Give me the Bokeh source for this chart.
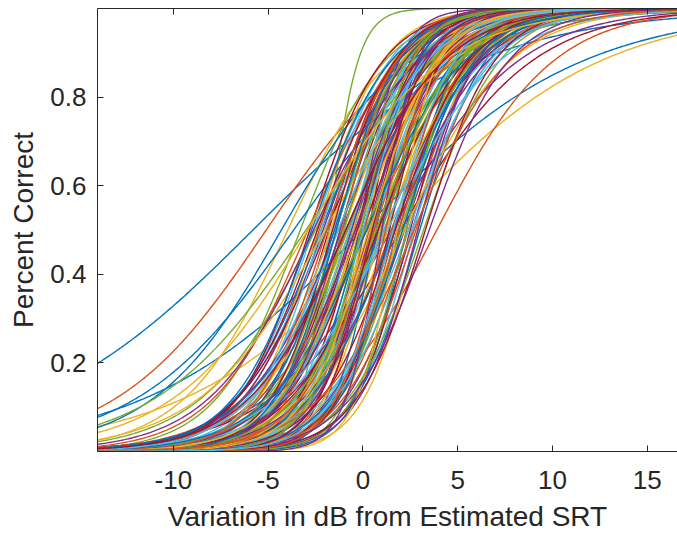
import numpy as np
from bokeh.plotting import figure
from bokeh.models import ColumnDataSource, FixedTicker, LinearAxis, Range1d
from bokeh.embed import file_html
from bokeh.resources import INLINE

# Psychometric-function parameters (midpoint in dB, slope)
midpoints = [
    -0.5, 0.8, -1.2, 1.6, -0.2, 0.4, -1.8,
    1.2, -2.3, 0.1, -0.9, 2.1, -1.5, 0.6,
    -5.8, -5.1, 1.5, -0.3, 0.9, -2.6, 1.9,
    -1.1, 2.4, -0.6, 0.3, -1.8, 1.0, -0.4,
    0.0, 3.9, -3.96, 1.5, -3.3, -2.0, 2.0,
    -3.65, 0.5, 1.3, -2.1, 0.2, 2.7, -1.0,
    -4.3, -1.4, 0.7, 2.2, -0.7, -0.1, 1.1,
    1.8, -0.8, -2.4, 0.4, 1.4, -1.6, -2.8,
    0.9, 1.7, 2.9, -1.3, -2.5, 0.0, 0.3,
    -2.2, 0.2, -0.5, 2.6, 1.0, 1.9, -1.9,
    2.3, -2.9, 1.2, -0.2, -3.0, 0.6, 2.5,
    -0.9, 1.5, -1.7, 0.8, 2.0, -0.6, 0.0,
    3.0, 0.1, -1.0, -2.6, 0.5, 2.4, -0.3,
    -1.5, 2.8, 0.9, 1.7, -0.8, -2.2, 1.4,
    0.7, -0.4, 2.2, -1.2, 3.2, 1.1, -2.4,
    -0.1, 1.9, -2.0, 0.4, -1.4, 2.6, 0.8,
    1.6, -1.1, 0.3, 2.9, 0.1, -0.7, -1.6,
    -2.7, 0.6, 1.8, -0.4, 2.3, 1.3, 3.3,
    0.2, -1.9, -0.2, 1.0, -1.0, 0.0, 1.7,
    2.1, 1.2, -2.9, -0.6, 0.7, -1.3, 0.5,
    -1.4, 2.7, 0.4, 3.5, -0.1, 1.6, -0.9,
]
slopes = [
    0.55, 0.48, 0.62, 0.45, 0.70, 0.52, 0.58,
    0.42, 0.50, 0.66, 0.40, 0.58, 0.47, 0.75,
    0.17, 0.251, 0.182, 0.53, 0.44, 0.49, 0.60,
    0.46, 0.55, 0.38, 0.68, 1.30, 0.57, 0.50,
    0.173, 0.326, 0.365, 0.30, 0.45, 0.43, 0.29,
    0.24, 0.60, 0.52, 0.47, 0.41, 0.64, 0.56,
    0.295, 0.63, 0.45, 0.50, 0.55, 0.80, 0.39,
    0.66, 0.36, 0.58, 0.49, 0.85, 0.44, 0.52,
    0.51, 0.62, 0.70, 0.40, 0.33, 0.46, 0.90,
    0.44, 0.35, 0.72, 0.57, 0.48, 0.53, 0.42,
    0.75, 0.40, 0.43, 0.95, 0.25, 0.58, 0.66,
    0.37, 0.47, 0.52, 0.60, 0.54, 0.67, 0.48,
    0.58, 0.82, 0.50, 0.36, 0.62, 0.45, 0.64,
    0.54, 0.52, 0.68, 0.41, 0.46, 0.56, 0.73,
    0.88, 0.44, 0.36, 0.59, 0.50, 0.38, 0.47,
    0.63, 0.56, 0.30, 0.71, 0.57, 0.49, 0.43,
    0.45, 0.69, 0.55, 0.64, 0.40, 0.50, 0.61,
    0.48, 0.51, 0.93, 0.45, 0.70, 0.34, 0.55,
    0.39, 0.54, 0.47, 1.05, 0.60, 0.65, 0.51,
    0.53, 0.76, 0.28, 0.55, 0.46, 0.43, 0.70,
    0.61, 0.40, 0.58, 0.48, 0.74, 0.62, 0.39,
]
x_ticks = [-10, -5, 0, 5, 10, 15]
y_ticks = [0.2, 0.4, 0.6, 0.8]
x_label = "Variation in dB from Estimated SRT"
y_label = "Percent Correct"
palette = ["#0072BD", "#D95319", "#EDB120", "#7E2F8E", "#77AC30", "#4DBEEE", "#A2142F"]

x = np.linspace(-14, 16.6, 300)
xs, ys, cols = [], [], []
for i, (m, s) in enumerate(zip(midpoints, slopes)):
    xs.append(x)
    ys.append(1.0 / (1.0 + np.exp(-s * (x - m))))
    cols.append(palette[i % len(palette)])
src = ColumnDataSource(dict(xs=xs, ys=ys, color=cols))

FONT = "Liberation Sans"
TXT = "#262626"

p = figure(width=677, height=538, x_range=Range1d(-14, 16.6), y_range=Range1d(0, 1),
           output_backend="svg", toolbar_location=None,
           min_border_left=97, min_border_right=0, min_border_top=8, min_border_bottom=87,
           x_axis_label=x_label, y_axis_label=y_label)
p.multi_line(xs="xs", ys="ys", line_color="color", line_width=1.4, source=src)
p.outline_line_color = None
p.grid.visible = False
p.background_fill_color = "white"
p.border_fill_color = "white"

bottom = p.below[0]
left = p.left[0]

top = LinearAxis(ticker=FixedTicker(ticks=x_ticks), axis_label=None,
                 major_label_overrides={t: "" for t in x_ticks},
                 major_label_text_font_size="1px", major_label_standoff=0)
p.add_layout(top, "above")

for ax in (bottom, left, top):
    ax.axis_line_color = TXT
    ax.axis_line_width = 1
    ax.major_tick_line_color = TXT
    ax.major_tick_in = 6
    ax.major_tick_out = 0
    ax.minor_tick_line_color = None
    ax.major_label_text_font = FONT
    ax.major_label_text_color = TXT
    ax.axis_label_text_font = FONT
    ax.axis_label_text_color = TXT
    ax.axis_label_text_font_style = "normal"

bottom.ticker = FixedTicker(ticks=x_ticks)
bottom.major_label_overrides = {t: str(t) for t in x_ticks}
left.ticker = FixedTicker(ticks=y_ticks)
left.major_label_overrides = {t: str(t) for t in y_ticks}
bottom.major_label_text_font_size = "26px"
left.major_label_text_font_size = "26px"
bottom.axis_label_text_font_size = "28px"
left.axis_label_text_font_size = "28px"
bottom.major_label_standoff = 19
bottom.axis_label_standoff = 9
left.major_label_standoff = 11
left.axis_label_standoff = 8

open("out.html", "w").write(file_html(p, INLINE))
